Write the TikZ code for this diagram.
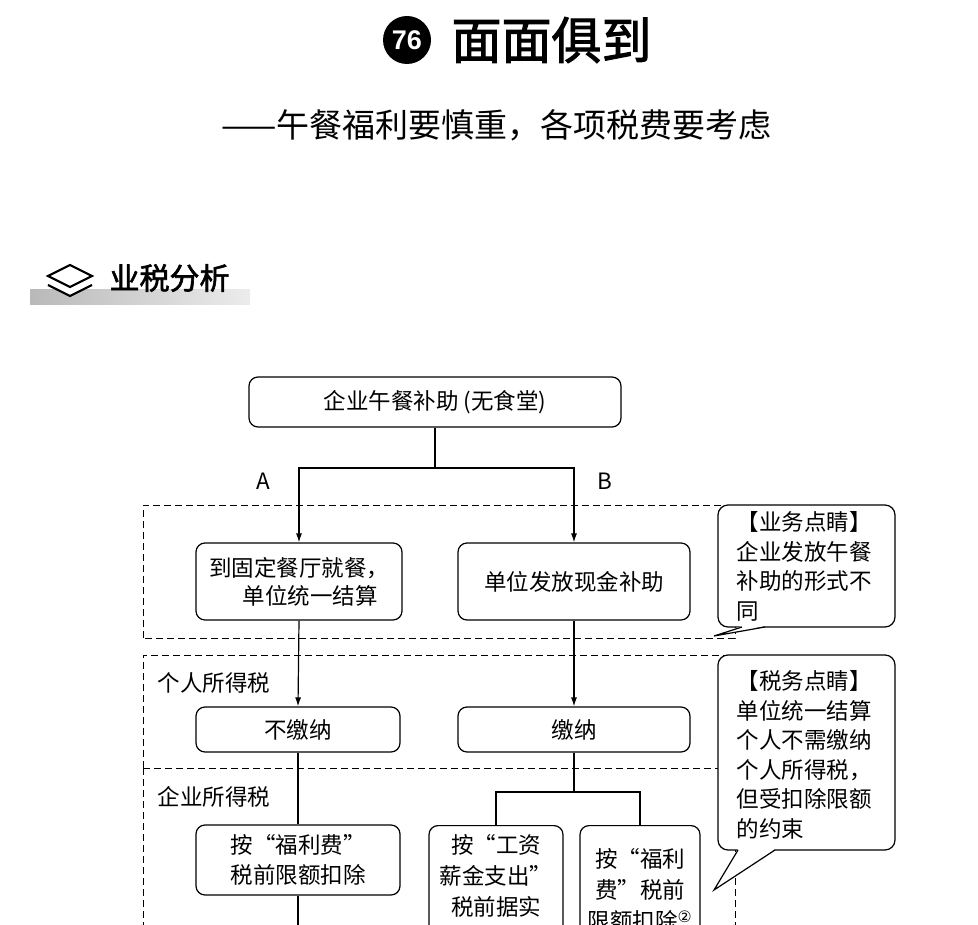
\documentclass[tikz,border=0pt]{standalone}
\usepackage{fontspec}
\setmainfont{Liberation Sans}
\newfontfamily\cjk{Noto Sans CJK SC}
\newfontfamily\cjkb{Noto Sans CJK SC}[FakeBold=2]
\newfontfamily\djvu{DejaVu Sans}
\usetikzlibrary{arrows.meta}
\begin{document}
\begin{tikzpicture}[x=1pt,y=-1pt,
  box/.style={draw,line width=1.2pt,rounded corners=9pt,font=\cjk\fontsize{22.5}{28}\selectfont,align=center,inner sep=0},
  dsh/.style={line width=1pt,dash pattern=on 7pt off 4pt},
  ln/.style={line width=1.2pt},
  arr/.style={ln,-{Latex[length=9pt,width=6pt]}},
  lbl/.style={font=\cjk\fontsize{22.5}{29.5}\selectfont},
  call/.style={line width=1.2pt,rounded corners=10pt,fill=white},
  tail/.style={line width=1.2pt,line join=miter}]
\useasboundingbox (0,0) rectangle (978,925);
\clip (0,0) rectangle (978,925);
% title
\node[circle,fill=black,minimum size=48pt,inner sep=0,font=\bfseries\fontsize{27}{27}\selectfont,text=white] (num) at (407,40) {76};
\node[anchor=west,font=\cjkb\fontsize{50}{54}\selectfont] (tt) at (448,40) {面面俱到};
\node[anchor=west,font=\cjk\fontsize{33}{36}\selectfont] (st) at (218,125) {——午餐福利要慎重，各项税费要考虑};
% header
\shade[left color=gray!55,right color=gray!15] (30,290) rectangle (250,305);
\draw[line width=2.2pt,fill=white] (48,285)--(70,296)--(92,285);
\draw[line width=2.2pt,fill=white] (48,276)--(70,265)--(92,276)--(70,287)--cycle;
\node[anchor=west,font=\cjkb\fontsize{30}{32}\selectfont] (hd) at (106,278) {业税分析};
% dashed regions
\draw[dsh] (143,638)--(143,505)--(735,505)--(735,638)--cycle;
\draw[dsh] (143,768)--(143,655)--(735,655)--(735,768);
\draw[dsh] (143,768)--(735,768);
\draw[dsh] (143,768)--(143,930);
\draw[dsh] (735,768)--(735,930);
% boxes
\node[box,minimum width=372pt,minimum height=50pt] (top) at (435,402) {企业午餐补助 (无食堂)};
\node[box,minimum width=206pt,minimum height=77pt] (l1) at (299,581.5) {到固定餐厅就餐，\\\hspace*{1em}单位统一结算};
\node[box,minimum width=232pt,minimum height=77pt] (r1) at (574,581.5) {单位发放现金补助};
\node[box,minimum width=204pt,minimum height=45pt] (l2) at (298,729.5) {不缴纳};
\node[box,minimum width=232pt,minimum height=45pt] (r2) at (574,729.5) {缴纳};
\node[box,minimum width=204pt,minimum height=70pt,font=\cjk\fontsize{22.5}{30}\selectfont] (l3) at (298,860) {按“福利费”\\税前限额扣除};
\node[box,minimum width=134pt,minimum height=140pt,anchor=north] (r3a) at (496,825) {};
\node[box,minimum width=120pt,minimum height=140pt,anchor=north] (r3b) at (640,825) {};
\node[lbl,align=center,anchor=north,font=\cjk\fontsize{22.5}{31}\selectfont,yshift=-6pt] (r3at) at (r3a.north) {按“工资\\薪金支出”\\税前据实\\扣除};
\node[lbl,align=center,anchor=north,font=\cjk\fontsize{22.5}{31}\selectfont,yshift=-20pt] (r3bt) at (r3b.north) {按“福利\\费”税前\\限额扣除\textsuperscript{\djvu ②}};
% labels
\node[lbl] (la) at (263,481) {A};
\node[lbl] (lb) at (605,481) {B};
\node[lbl,anchor=west] (gr) at (154,683) {个人所得税};
\node[lbl,anchor=west] (qy) at (154,797) {企业所得税};
% connectors
\coordinate (j) at (435,468);
\draw[ln] (top.south)--(j);
\draw[arr] (j)-|(l1.north);
\draw[arr] (j)-|(r1.north);
\draw[arr] (l1.south)--(l2.north);
\draw[arr] (r1.south)--(r2.north);
\draw[ln] (l2.south)--(l3.north);
\draw[ln] (l3.south)--++(0,40);
\coordinate (j2) at (574,792);
\draw[ln] (r2.south)--(j2);
\draw[ln] (j2)-|(r3a.north);
\draw[ln] (j2)-|(r3b.north);
% callouts
\draw[call] (718,505) rectangle (895,627);
\fill[white] (742,626) -- (714,636) -- (765,626) -- cycle;
\draw[tail] (742,627) -- (714,636) -- (765,627);
\node[lbl,anchor=north west,align=left] (c1) at (733,508) {【业务点睛】\\企业发放午餐\\补助的形式不\\同};
\draw[call] (718,655) rectangle (895,850);
\fill[white] (738,849) -- (714,890) -- (775,849) -- cycle;
\draw[tail] (738,850) -- (714,890) -- (775,850);
\node[lbl,anchor=north west,align=left] (c2) at (733,667) {【税务点睛】\\单位统一结算\\个人不需缴纳\\个人所得税，\\但受扣除限额\\的约束};
\end{tikzpicture}
\end{document}
